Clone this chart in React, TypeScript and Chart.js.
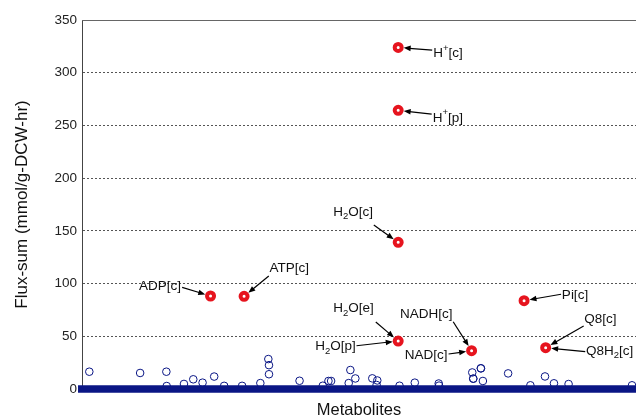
import React, { useEffect, useRef } from "react";
import { Chart, registerables } from "chart.js";

Chart.register(...registerables);

// ---------- data ----------
const yTickStep = 50;
const yMin = 0;
const yMax = 350;
const metaboliteCount = 1668;

// run of metabolites with flux-sum ~ 0 (dense band along the axis)
const baselineIndex = [-12, 1680];
const baselineFlux = [0, 0];

// metabolites with small but visible flux-sum
const minorIndex = [22, 175, 254, 255, 307, 335, 363, 398, 428, 482, 537, 561, 563, 563, 655, 725, 742, 750, 803, 808, 823, 874, 889, 887, 956, 1002, 1074, 1075, 1175, 1201, 1201, 1178, 1178, 1207, 1283, 1350, 1394, 1421, 1465, 1656];
const minorFlux = [16.4, 15.2, 16.4, 2.8, 4.8, 9.2, 6.0, 11.8, 3.0, 3.0, 5.6, 28.4, 22.6, 14.0, 7.8, 3.1, 7.6, 7.6, 5.6, 18.0, 10.0, 10.1, 8.1, 3.8, 3.1, 6.0, 5.2, 3.2, 15.7, 19.6, 19.6, 9.8, 9.8, 7.6, 14.8, 3.5, 11.9, 5.4, 4.7, 3.5];

// highlighted hub metabolites
const hubIds = ["h_c", "h_p", "h2o_c", "adp_c", "atp_c", "h2o_e_p", "nad_nadh_c", "pi_c", "q8_q8h2_c"];
const hubIndex = [952, 952, 952, 387, 488, 952, 1173, 1331, 1396];
const hubFlux = [324, 264.3, 139.1, 88.2, 87.9, 45.5, 36.3, 83.8, 39.2];

// labels (^x = superscript, _x = subscript) and the hub each one points at
const labelTexts = ["H^+[c]", "H^+[p]", "H_2O[c]", "ADP[c]", "ATP[c]", "H_2O[e]", "H_2O[p]", "NADH[c]", "NAD[c]", "Pi[c]", "Q8[c]", "Q8H_2[c]"];
const labelHub = [0, 1, 2, 3, 4, 5, 5, 6, 6, 7, 8, 8];

// ---------- label layout (pixel offsets from the hub point; styles only) ----------
type LabelLayout = { text: [number, number]; tail: [number, number]; align: "left" | "right" };
const labelLayout: LabelLayout[] = [
  { text: [35, 5.5], tail: [34, 2.7], align: "left" },
  { text: [34.5, 7.5], tail: [33.5, 3.7], align: "left" },
  { text: [-65, -30], tail: [-24.4, -17.3], align: "left" },
  { text: [-29.5, -9.7], tail: [-28.4, -8.7], align: "right" },
  { text: [25.5, -28], tail: [24.7, -20.3], align: "left" },
  { text: [-65, -32.3], tail: [-22.4, -19], align: "left" },
  { text: [-42.5, 5.5], tail: [-41.7, 4.7], align: "right" },
  { text: [-71.7, -36], tail: [-18.4, -29], align: "left" },
  { text: [-24, 4.6], tail: [-23, 3.3], align: "right" },
  { text: [37.8, -5.7], tail: [37, -6.4], align: "left" },
  { text: [38.6, -28.7], tail: [38, -21.7], align: "left" },
  { text: [40.3, 3.6], tail: [39.6, 4], align: "left" },
];

const FONT = '"Liberation Sans", Arial, Helvetica, sans-serif';
const NAVY = "#0a1685";
const RED = "#e6141e";

type Seg = { t: string; k: "" | "^" | "_" };
function parseRich(s: string): Seg[] {
  const out: Seg[] = [];
  for (let i = 0; i < s.length; i++) {
    const c = s[i];
    if (c === "^" || c === "_") {
      out.push({ t: s[i + 1], k: c });
      i++;
    } else if (out.length && out[out.length - 1].k === "") {
      out[out.length - 1].t += c;
    } else {
      out.push({ t: c, k: "" });
    }
  }
  return out;
}

function drawRich(ctx: CanvasRenderingContext2D, s: string, x: number, y: number, align: "left" | "right") {
  const segs = parseRich(s);
  const mainFont = `13.5px ${FONT}`;
  const smallFont = `9.5px ${FONT}`;
  const widths = segs.map((sg) => {
    ctx.font = sg.k === "" ? mainFont : smallFont;
    return ctx.measureText(sg.t).width;
  });
  const total = widths.reduce((a, b) => a + b, 0);
  let cx = align === "right" ? x - total : x;
  ctx.textAlign = "left";
  ctx.textBaseline = "middle";
  ctx.fillStyle = "#111";
  segs.forEach((sg, i) => {
    ctx.font = sg.k === "" ? mainFont : smallFont;
    const off = sg.k === "^" ? -5 : sg.k === "_" ? 4.5 : 0;
    ctx.fillText(sg.t, cx, y + off);
    cx += widths[i];
  });
}

const hubLabelPlugin = {
  id: "hubLabels",
  beforeDatasetsDraw(chart: any) {
    const { ctx, chartArea } = chart;
    ctx.save();
    ctx.strokeStyle = "#666";
    ctx.lineWidth = 1;
    ctx.beginPath();
    ctx.moveTo(chartArea.left, chartArea.top + 0.5);
    ctx.lineTo(chartArea.right, chartArea.top + 0.5);
    ctx.stroke();
    ctx.restore();
  },
  afterDatasetsDraw(chart: any) {
    const { ctx } = chart;
    const xs = chart.scales.x;
    const ys = chart.scales.y;
    ctx.save();
    labelTexts.forEach((txt, i) => {
      const h = labelHub[i];
      const px = xs.getPixelForValue(hubIndex[h]);
      const py = ys.getPixelForValue(hubFlux[h]);
      const L = labelLayout[i];
      const tx = px + L.tail[0];
      const ty = py + L.tail[1];
      const ang = Math.atan2(py - ty, px - tx);
      const c = Math.cos(ang);
      const sn = Math.sin(ang);
      const hx = px - c * 5.5;
      const hy = py - sn * 5.5;
      const headLen = 7;
      const headHalf = 2.8;
      ctx.strokeStyle = "#000";
      ctx.fillStyle = "#000";
      ctx.lineWidth = 1.2;
      ctx.beginPath();
      ctx.moveTo(tx, ty);
      ctx.lineTo(hx - c * headLen * 0.8, hy - sn * headLen * 0.8);
      ctx.stroke();
      ctx.beginPath();
      ctx.moveTo(hx, hy);
      ctx.lineTo(hx - c * headLen - sn * headHalf, hy - sn * headLen + c * headHalf);
      ctx.lineTo(hx - c * headLen + sn * headHalf, hy - sn * headLen - c * headHalf);
      ctx.closePath();
      ctx.fill();
      drawRich(ctx, txt, px + L.text[0], py + L.text[1], L.align);
    });
    ctx.restore();
  },
};

export default function App() {
  const canvasRef = useRef<HTMLCanvasElement | null>(null);

  useEffect(() => {
    document.body.style.margin = "0";
    const canvas = canvasRef.current;
    if (!canvas) return;

    const hubData = hubIndex.map((x, i) => ({ x, y: hubFlux[i], id: hubIds[i] }));
    const minorData = minorIndex.map((x, i) => ({ x, y: minorFlux[i] }));
    const baseData = baselineIndex.map((x, i) => ({ x, y: baselineFlux[i] }));

    const chart = new Chart(canvas, {
      type: "scatter",
      data: {
        datasets: [
          {
            label: "Hub metabolites",
            data: hubData,
            pointRadius: 3.5,
            pointBorderWidth: 4,
            borderColor: RED,
            pointBorderColor: RED,
            pointBackgroundColor: "#ffffff",
            backgroundColor: "#ffffff",
            order: 0,
            clip: false,
          } as any,
          {
            label: "Metabolites",
            data: minorData,
            pointRadius: 3.8,
            pointBorderWidth: 1,
            borderColor: NAVY,
            pointBorderColor: NAVY,
            pointBackgroundColor: "rgba(0,0,0,0)",
            backgroundColor: "rgba(0,0,0,0)",
            order: 1,
            clip: false,
          } as any,
          {
            label: "Near-zero metabolites",
            data: baseData,
            showLine: true,
            borderColor: NAVY,
            borderWidth: 7.5,
            borderCapStyle: "butt",
            pointRadius: 0,
            order: 2,
            clip: false,
          } as any,
        ],
      },
      options: {
        animation: false,
        responsive: false,
        maintainAspectRatio: false,
        devicePixelRatio: 1,
        layout: { autoPadding: false, padding: { top: 20, left: 0, right: 0, bottom: 0 } },
        plugins: {
          legend: { display: false },
          tooltip: { enabled: false },
          title: { display: false },
        },
        scales: {
          x: {
            type: "linear",
            min: 0,
            max: metaboliteCount,
            ticks: { display: false },
            grid: { display: false, drawTicks: false },
            border: { display: false },
            title: {
              display: true,
              text: "Metabolites",
              color: "#111",
              font: { family: FONT, size: 16.5, lineHeight: 0.75 },
              padding: { top: 0, bottom: 0 },
            },
            afterFit: (s: any) => {
              s.height = 28;
            },
          },
          y: {
            type: "linear",
            min: yMin,
            max: yMax,
            ticks: {
              stepSize: yTickStep,
              color: "#222",
              padding: 5,
              font: { family: FONT, size: 13.5 },
            },
            grid: {
              drawTicks: false,
              tickLength: 0,
              lineWidth: 1,
              color: (c: any) => {
                const v = c.tick ? c.tick.value : null;
                return v === yMin || v === yMax ? "rgba(0,0,0,0)" : "#555";
              },
            },
            border: { display: true, color: "#444", width: 1, dash: [2, 2] },
            title: {
              display: true,
              text: "Flux-sum (mmol/g-DCW-hr)",
              color: "#111",
              font: { family: FONT, size: 17, lineHeight: 1.2 },
              padding: { top: 12.3, bottom: 0 },
            },
            afterFit: (s: any) => {
              s.width = 82;
            },
          },
        },
      } as any,
      plugins: [hubLabelPlugin],
    });

    return () => chart.destroy();
  }, []);

  return (
    <div style={{ position: "absolute", left: 0, top: 0, width: 636, height: 417 }}>
      <canvas ref={canvasRef} width={636} height={417} style={{ display: "block", width: 636, height: 417 }} />
    </div>
  );
}
